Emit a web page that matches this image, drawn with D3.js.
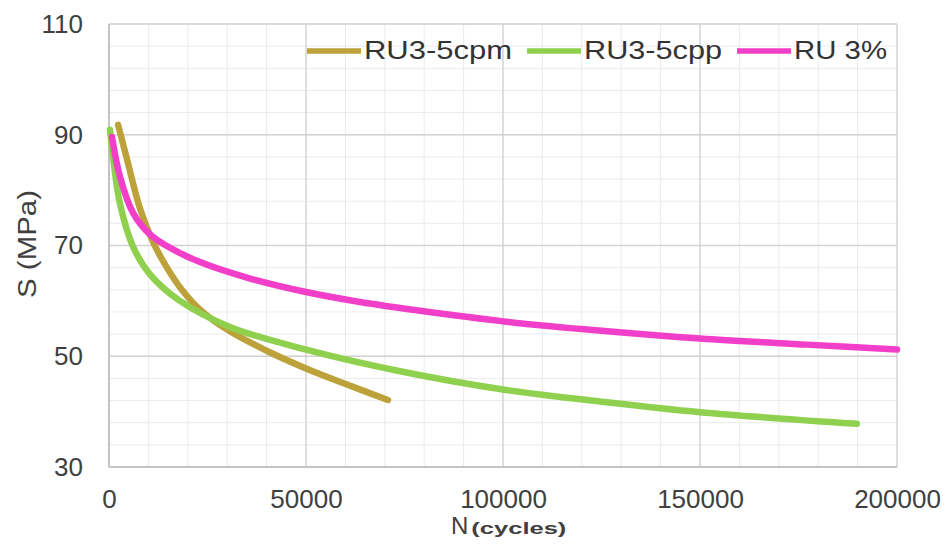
<!DOCTYPE html>
<html>
<head>
<meta charset="utf-8">
<script src="https://cdn.jsdelivr.net/npm/d3@7"></script>
<style>
  body { margin: 0; background: #fff; }
  text { font-family: "Liberation Sans", Arial, sans-serif; }
</style>
</head>
<body>
<script>
// S-N curves, values
var seriesNames = ["RU3-5cpm", "RU3-5cpp", "RU 3%"];
var cpmN = [2300, 4600, 7900, 11200, 14700, 18500, 23100, 30700, 40000, 50000, 60400, 70800];
var cpmS = [91.8, 85.5, 76.6, 70.6, 66.0, 62.0, 58.4, 54.5, 51.0, 47.8, 44.9, 42.1];
var cppN = [250, 1200, 2800, 6100, 10400, 18000, 30700, 50000, 73900, 100000, 125000, 150000, 189800];
var cppS = [90.9, 85.0, 77.5, 69.8, 64.8, 60.0, 55.3, 51.2, 47.3, 44.0, 41.8, 39.9, 37.8];
var ruN = [760, 2800, 6100, 10400, 14700, 23100, 35000, 50000, 63700, 79000, 100000, 125000, 150000, 177100, 200000];
var ruS = [89.6, 82.4, 75.9, 72.0, 69.9, 67.0, 64.2, 61.6, 59.8, 58.2, 56.3, 54.6, 53.2, 52.1, 51.2];
var xTicks = [0, 50000, 100000, 150000, 200000];
var yTicks = [30, 50, 70, 90, 110];

var colors = ["#bda23c", "#8fd14f", "#f23fc9"];
var W = 949, H = 545;
var margin = {left: 109, right: 52, top: 24, bottom: 78};
var w = W - margin.left - margin.right;
var h = H - margin.top - margin.bottom;

var svg = d3.select("body").append("svg")
    .attr("width", W)
    .attr("height", H);
var g = svg.append("g").attr("transform", "translate(" + margin.left + "," + margin.top + ")");

var x = d3.scaleLinear().domain([0, 200000]).range([0, w]);
var y = d3.scaleLinear().domain([30, 110]).range([h, 0]);

// minor grid
g.selectAll(".vminor").data(d3.range(0, 200001, 10000)).enter().append("line")
    .attr("x1", d => x(d)).attr("x2", d => x(d))
    .attr("y1", 0).attr("y2", h)
    .attr("stroke", "#ebebeb").attr("stroke-width", 1);
g.selectAll(".hminor").data(d3.range(30, 111, 4)).enter().append("line")
    .attr("x1", 0).attr("x2", w)
    .attr("y1", d => y(d)).attr("y2", d => y(d))
    .attr("stroke", "#ebebeb").attr("stroke-width", 1);
// major grid
g.selectAll(".vmajor").data(xTicks).enter().append("line")
    .attr("x1", d => x(d)).attr("x2", d => x(d))
    .attr("y1", 0).attr("y2", h)
    .attr("stroke", "#c8c8c8").attr("stroke-width", 1);
g.selectAll(".hmajor").data(yTicks).enter().append("line")
    .attr("x1", 0).attr("x2", w)
    .attr("y1", d => y(d)).attr("y2", d => y(d))
    .attr("stroke", "#d2d2d2").attr("stroke-width", 1.5);

// axes lines
g.append("line").attr("x1", 0).attr("x2", 0).attr("y1", 0).attr("y2", h)
    .attr("stroke", "#c4c4c4").attr("stroke-width", 2);
g.append("line").attr("x1", 0).attr("x2", w).attr("y1", h).attr("y2", h)
    .attr("stroke", "#c4c4c4").attr("stroke-width", 2);

var xAxis = g.append("g").attr("transform", "translate(0," + h + ")")
    .call(d3.axisBottom(x).tickValues(xTicks).tickFormat(d3.format("d")).tickSize(0).tickPadding(23));
var yAxis = g.append("g")
    .call(d3.axisLeft(y).tickValues(yTicks).tickSize(0).tickPadding(26));
[xAxis, yAxis].forEach(function(a) {
    a.select(".domain").remove();
    a.selectAll("text")
        .attr("font-size", 26)
        .attr("font-family", "'Liberation Sans', Arial, sans-serif")
        .attr("fill", "#404040");
});

// curves
var line = d3.line()
    .x(d => x(d[0]))
    .y(d => y(d[1]))
    .curve(d3.curveCatmullRom.alpha(0.5));
var series = [d3.zip(cpmN, cpmS), d3.zip(cppN, cppS), d3.zip(ruN, ruS)];
g.selectAll(".curve").data(series).enter().append("path")
    .attr("d", line)
    .attr("fill", "none")
    .attr("stroke", (d, i) => colors[i])
    .attr("stroke-width", 6.5)
    .attr("stroke-linecap", "round");

// legend
var legX = [307, 527, 737];
var legLen = [148, 138, 93];
var leg = svg.selectAll(".leg").data(seriesNames).enter().append("g");
leg.append("line")
    .attr("x1", (d, i) => legX[i]).attr("x2", (d, i) => legX[i] + 54)
    .attr("y1", 51).attr("y2", 51)
    .attr("stroke", (d, i) => colors[i]).attr("stroke-width", 5.5);
leg.append("text")
    .attr("x", (d, i) => legX[i] + 57)
    .attr("y", 59)
    .attr("font-size", 26)
    .attr("fill", "#333")
    .attr("textLength", (d, i) => legLen[i])
    .attr("lengthAdjust", "spacingAndGlyphs")
    .text(d => d);

// axis titles
svg.append("text")
    .attr("transform", "translate(36,244) rotate(-90)")
    .attr("text-anchor", "middle")
    .attr("font-size", 25)
    .attr("fill", "#404040")
    .attr("textLength", 108)
    .attr("lengthAdjust", "spacingAndGlyphs")
    .text("S (MPa)");
var xt = svg.append("text").attr("x", 451).attr("y", 534).attr("fill", "#404040");
xt.append("tspan").attr("font-size", 24).text("N");
xt.append("tspan").attr("dx", 3).attr("font-size", 17).attr("font-weight", "bold")
    .attr("textLength", 95).attr("lengthAdjust", "spacingAndGlyphs").text("(cycles)");
</script>
</body>
</html>
